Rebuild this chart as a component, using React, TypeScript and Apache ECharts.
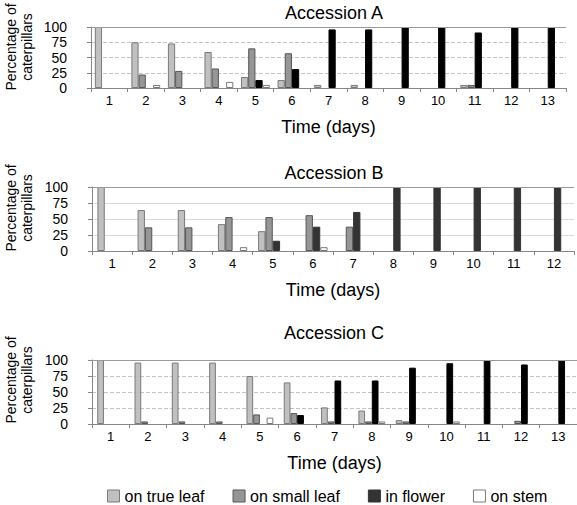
import React, { useEffect, useRef } from "react";
import * as echarts from "echarts";

const daysA = ["1", "2", "3", "4", "5", "6", "7", "8", "9", "10", "11", "12", "13"];
const daysB = ["1", "2", "3", "4", "5", "6", "7", "8", "9", "10", "11", "12"];
const daysC = ["1", "2", "3", "4", "5", "6", "7", "8", "9", "10", "11", "12", "13"];

const trueLeafA = [100, 75, 73, 59, 18, 13, 5, 5, 0, 0, 5, 0, 0];
const smallLeafA = [0, 22, 28, 32, 65, 57, 0, 0, 0, 0, 5, 0, 0];
const flowerA = [0, 0, 0, 0, 13, 31, 96, 96, 100, 100, 91, 100, 100];
const stemA = [0, 5, 0, 10, 5, 0, 0, 0, 0, 0, 0, 0, 0];

const trueLeafB = [100, 64, 64, 42, 31, 0, 0, 0, 0, 0, 0, 0];
const smallLeafB = [0, 37, 37, 53, 53, 56, 38, 0, 0, 0, 0, 0];
const flowerB = [0, 0, 0, 0, 16, 38, 61, 100, 100, 100, 100, 100];
const stemB = [0, 0, 0, 6, 0, 6, 0, 0, 0, 0, 0, 0];

const trueLeafC = [100, 96, 96, 96, 75, 65, 26, 21, 6, 0, 0, 0, 0];
const smallLeafC = [0, 4, 4, 4, 15, 17, 4, 4, 4, 0, 0, 5, 0];
const flowerC = [0, 0, 0, 0, 0, 14, 68, 68, 88, 95, 100, 93, 100];
const stemC = [0, 0, 0, 0, 10, 0, 0, 4, 0, 4, 0, 0, 0];

const yTicks = [0, 25, 50, 75, 100];
const seriesNames = ["on true leaf", "on small leaf", "in flower", "on stem"];
const panelTitles = ["Accession A", "Accession B", "Accession C"];

const FONT = "Liberation Sans, Arial, sans-serif";

export default function App() {
  const ref = useRef<HTMLDivElement>(null);

  useEffect(() => {
    if (!ref.current) return;
    const chart = echarts.init(ref.current, undefined, { renderer: "svg" });

    const grids = [
      { left: 91, right: 11, top: 27, height: 61 },
      { left: 92, right: 3, top: 187, height: 64 },
      { left: 92, right: 0, top: 360, height: 64 },
    ];
    const cats = [daysA, daysB, daysC];
    const gaps = ["21%", "27%", "28%"];
    const data = [
      [trueLeafA, smallLeafA, flowerA, stemA],
      [trueLeafB, smallLeafB, flowerB, stemB],
      [trueLeafC, smallLeafC, flowerC, stemC],
    ];
    const flowerColors = ["#000000", "#333333", "#000000"];
    const splitTypes = ["dashed", "solid", "dashed"];
    const splitColors = ["#c4c4c4", "#dadada", "#c4c4c4"];

    const styleFor = (s: number, p: number) => {
      if (s === 0) return { color: "#c0c0c0", borderColor: "#7a7a7a", borderWidth: 1 };
      if (s === 1) return { color: "#969696", borderColor: "#555555", borderWidth: 1 };
      if (s === 2) return { color: flowerColors[p], borderColor: flowerColors[p], borderWidth: 1 };
      return { color: "#ffffff", borderColor: "#7a7a7a", borderWidth: 1 };
    };

    const series: any[] = [];
    for (let p = 0; p < 3; p++) {
      for (let s = 0; s < 4; s++) {
        const item: any = {
          type: "bar",
          name: seriesNames[s],
          xAxisIndex: p,
          yAxisIndex: p,
          data: data[p][s].map((v) => (v === 0 ? null : v)),
          barGap: "0%",
          barCategoryGap: gaps[p],
          itemStyle: styleFor(s, p),
          silent: true,
        };
        if (s === 0) {
          item.markLine = {
            silent: true,
            symbol: ["none", "none"],
            label: { show: false },
            lineStyle: { color: "#9a9a9a", type: "solid", width: 1 },
            data: [{ yAxis: yTicks[yTicks.length - 1] }],
          };
        }
        series.push(item);
      }
    }

    const option: any = {
      animation: false,
      backgroundColor: "#ffffff",
      textStyle: { fontFamily: FONT },
      title: panelTitles.map((t, i) => ({
        text: t,
        left: 329,
        textAlign: "center",
        top: [-1, 159, 319][i],
        textStyle: { fontFamily: FONT, fontSize: 18, fontWeight: "normal", color: "#000" },
      })),
      grid: grids,
      xAxis: cats.map((c, i) => ({
        type: "category",
        gridIndex: i,
        data: c,
        boundaryGap: true,
        name: "Time (days)",
        nameLocation: "middle",
        nameGap: 30,
        nameTextStyle: { fontFamily: FONT, fontSize: 18, color: "#000" },
        axisLine: { show: true, lineStyle: { color: "#868686", width: 1 } },
        axisTick: { show: true, length: 4, alignWithLabel: false, lineStyle: { color: "#868686" } },
        axisLabel: { fontFamily: FONT, fontSize: 13, color: "#000", margin: 6, interval: 0 },
        splitLine: { show: false },
      })),
      yAxis: cats.map((_, i) => ({
        type: "value",
        gridIndex: i,
        min: yTicks[0],
        max: yTicks[yTicks.length - 1],
        interval: 25,
        axisLine: { show: true, lineStyle: { color: "#868686", width: 1 } },
        axisTick: { show: true, length: 4, inside: false, lineStyle: { color: "#868686" } },
        axisLabel: { fontFamily: FONT, fontSize: 14, color: "#000", margin: 24 },
        splitLine: { show: true, lineStyle: { color: splitColors[i], type: splitTypes[i], width: 1 } },
      })),
      legend: {
        left: 102,
        top: 483,
        icon: "rect",
        itemWidth: 12,
        itemHeight: 12,
        itemGap: 28,
        textStyle: { fontFamily: FONT, fontSize: 16, color: "#000" },
        selectedMode: false,
        data: [
          { name: seriesNames[0], itemStyle: { color: "#c0c0c0", borderColor: "#7a7a7a", borderWidth: 1 } },
          { name: seriesNames[1], itemStyle: { color: "#969696", borderColor: "#555555", borderWidth: 1 } },
          { name: seriesNames[2], itemStyle: { color: "#333333", borderColor: "#333333", borderWidth: 1 } },
          { name: seriesNames[3], itemStyle: { color: "#ffffff", borderColor: "#7a7a7a", borderWidth: 1 } },
        ],
      },
      graphic: [47, 208, 380].map((cy) => ({
        type: "text",
        x: 19,
        y: cy,
        rotation: Math.PI / 2,
        style: {
          text: "Percentage of\ncaterpillars",
          fontFamily: FONT,
          fontSize: 14,
          lineHeight: 16,
          fill: "#000",
          align: "center",
          verticalAlign: "middle",
        },
      })),
      series,
    };

    chart.setOption(option);
    return () => chart.dispose();
  }, []);

  return (
    <div
      ref={ref}
      style={{ position: "fixed", left: 0, top: 0, width: 577, height: 505 }}
    />
  );
}
